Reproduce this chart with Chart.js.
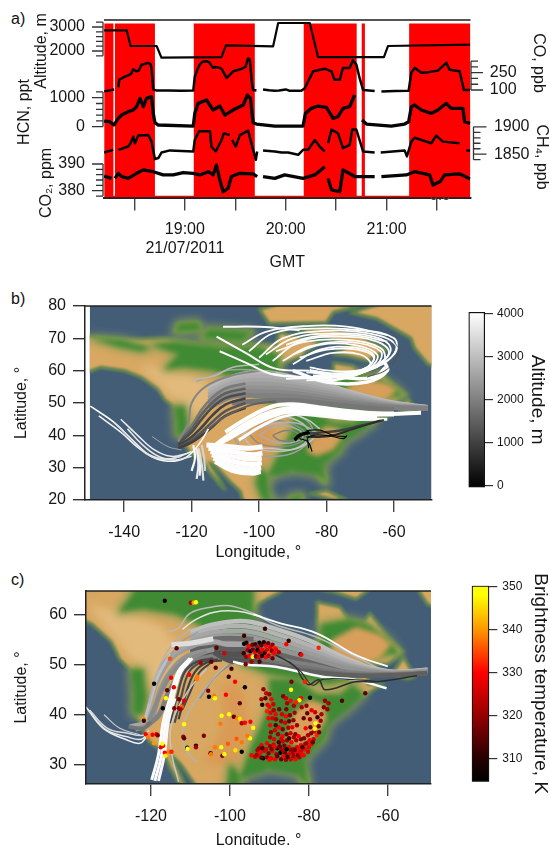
<!DOCTYPE html>
<html lang="en">
<head>
<meta charset="UTF-8">
<title>Flight time series, back trajectories and fire counts</title>
<script src="https://cdn.jsdelivr.net/npm/chart.js"></script>
<style>
  body { margin: 0; background: #fff; width: 550px; height: 845px; position: relative; overflow: hidden; font-family: "Liberation Sans", sans-serif; }
  canvas { position: absolute; display: block; }
  .tag { position: absolute; left: 11px; font-size: 16px; color: #111; line-height: 18px; }
</style>
</head>
<body>
<div class="tag" style="top:10px">a)</div>
<div class="tag" style="top:290px">b)</div>
<div class="tag" style="top:571px">c)</div>
<canvas id="seriesChart" width="550" height="275" style="left:0;top:0"></canvas>
<canvas id="trajChart" width="450" height="280" style="left:0;top:285px"></canvas>
<canvas id="altBar" width="100" height="280" style="left:450px;top:285px"></canvas>
<canvas id="fireChart" width="450" height="280" style="left:0;top:565px"></canvas>
<canvas id="tempBar" width="100" height="280" style="left:450px;top:565px"></canvas>

<script>
// ---- panel a: time is minutes after 00:00 GMT
const flagTime = [1092, 1097.5, 1098.4, 1122.2, 1145.3, 1181.6, 1210.7, 1242.2, 1245.2, 1247.1, 1273.4, 1309.9];
const flagValues = [.98, .01, .98, .01, .98, .01, .98, .01, .98, .01, .98, .98];

const altTime = [1092, 1105.4, 1107.7, 1123.2, 1126.1, 1161.8, 1164.4, 1192.5, 1195.5, 1214.3, 1219.2, 1258.4, 1260.8, 1309.7];
const altValues = [2861, 2861, 2208, 2208, 1721, 1749, 2235, 2194, 3167, 3167, 1749, 1749, 2208, 2263];

const coTime = [1092, 1098, 1099.5, 1100.4, 1101, 1102.5, 1104, 1106, 1108, 1109.3, 1111, 1112.5, 1114.3, 1116, 1118.2, 1119.5, 1120.2, 1121.2, 1123.2, 1130, 1138, 1145, 1145.9, 1147.5, 1148.9, 1150.5, 1152.9, 1154.5, 1156.8, 1158, 1160.8, 1162, 1164.8, 1166, 1168.7, 1172, 1174.7, 1176, 1177.6, 1178.6, 1180, 1180.6, 1182.6, 1184, 1186.5, 1190, 1193.5, 1196, 1200, 1202, 1209.3, 1211.3, 1213.3, 1216.3, 1223.2, 1227.2, 1229.1, 1232.1, 1234, 1238, 1240, 1242, 1244, 1246, 1252.9, 1254.5, 1256.9, 1265, 1273.1, 1274.7, 1276.7, 1280.6, 1285, 1290.5, 1295.5, 1297.5, 1303.4, 1306, 1309.7];
const coValues = [88, 105, null, 124, 190, 200, 215, 225, 240, 280, 262, 268, 320, 325, 335, 325, 290, 105, 95, 96, 94, 95, 215, 280, 320, 345, 350, 340, 292, 300, 292, 280, 205, 220, 262, 275, 290, 300, 375, 362, 150, 100, 95, null, 105, 98, 94, 96, 105, 94, 94, 115, 175, 262, 285, 262, 188, 188, 291, 291, 358, 320, 200, 100, 92, null, 86, 92, 94, 250, 292, 250, 255, 268, 335, 276, 262, 100, 100];

const hcnTime = [1092, 1095.4, 1097.8, 1100.4, 1102.4, 1106.3, 1109.3, 1111.3, 1113.3, 1115.3, 1117.2, 1120.2, 1121.2, 1122.2, 1124.2, 1145, 1145.9, 1147.9, 1152.9, 1156.8, 1160.8, 1163.8, 1168.7, 1174.7, 1177.2, 1179, 1180.6, 1182.6, 1193.5, 1210.3, 1211.7, 1215.3, 1219.2, 1224.2, 1228.2, 1231.1, 1234.1, 1238, 1241, 1243, 1245.4, 1248, 1262.8, 1270.7, 1273.1, 1274.7, 1276.7, 1280.6, 1286.6, 1290.5, 1295.5, 1298.4, 1305.4, 1306.4, 1309.7];
const hcnValues = [195, 172, 58, 288, 402, 518, 575, 690, 978, 690, 978, 1035, 460, 138, 58, 23, 460, 805, 920, 575, 713, 402, 575, 748, 1093, 978, 138, 92, 23, 23, 460, 633, 713, 667, 288, 345, 633, 690, 1093, null, 230, 92, 23, 92, 172, 690, 748, 575, 460, 575, 805, 633, 633, 172, 115];

const ch4Time = [1092, 1097.4, 1098.5, 1100.4, 1106.3, 1107.7, 1109.3, 1110.3, 1112.3, 1118.2, 1120.2, 1122.2, 1124.2, 1126.1, 1131.1, 1145, 1145.9, 1148.5, 1154.9, 1155.8, 1158.4, 1161.8, 1163.2, 1166.7, 1167.4, 1168.1, 1170.3, 1172.7, 1177.6, 1182.2, 1183, 1185, 1186.5, 1193.5, 1197.5, 1201.4, 1207.4, 1210.3, 1213.3, 1217.3, 1220.2, 1223.2, 1224.5, 1225.2, 1227.2, 1231.1, 1234.1, 1238, 1239.6, 1242, 1246, 1252.9, 1255, 1256.5, 1270.7, 1272.1, 1274.7, 1276.7, 1286.6, 1289.5, 1293.5, 1303.4, 1305, 1307.4, 1309.7];
const ch4Values = [1853, 1858, null, 1858, 1864, 1870, 1882, 1870, 1884, 1885, 1873, 1841, 1843, 1853, 1857, 1855, 1876, 1892, 1892, 1864, 1855, 1876, 1888, 1885, null, 1876, 1864, 1885, 1893, 1840, 1855, null, 1857, 1855, 1853, 1853, 1849, 1858, 1858, 1876, 1864, 1855, null, 1870, 1895, 1888, 1861, 1867, 1895, 1895, 1855, 1853, null, 1853, 1857, 1846, 1873, 1880, 1870, 1884, 1873, 1870, null, 1857, 1857];

const co2Time = [1092, 1096.4, 1097.5, 1098.4, 1100.4, 1102.4, 1106.3, 1111.3, 1115.3, 1121.2, 1127.1, 1133.1, 1139, 1145, 1148.9, 1153.9, 1156.8, 1158.8, 1160.8, 1162.8, 1165.7, 1167.7, 1172.7, 1180.6, 1183, 1184.5, 1186.5, 1193.5, 1199.4, 1210.3, 1217.3, 1223.2, 1224.3, 1225.2, 1227.2, 1232.1, 1234.1, 1241, 1252.9, 1254.8, 1256.9, 1271.7, 1276.7, 1285.6, 1287.6, 1291.9, 1294.5, 1303.4, 1309.7];
const co2Values = [385.5, 384.6, null, 384.6, 386.5, 385.3, 384.6, 386.5, 387.8, 387.1, 385.9, 385.9, 386.8, 386.5, 385.9, 387.1, 385.9, 389.6, 384, 379.6, 380.9, 385.3, 386.5, 386.3, 385.3, null, 385.3, 384.6, 385.9, 384.6, 385.9, 389, null, 384.6, 380.3, 379.6, 387.8, 385.3, 385.3, null, 385.3, 385.9, 387.1, 385.9, 382.1, 383.4, 385.9, 386.3, 384.4];

const altMajor = [2000, 3000], altMinor = [1800, 2200, 2400, 2600, 2800, 3200];
const hcnMajor = [0, 1000], hcnMinor = [200, 400, 600, 800, 1200];
const co2Major = [380, 390], co2Minor = [378, 382, 384, 386, 388];
const coMajor = [100, 250], coMinor = [150, 200, 300, 350];
const ch4Major = [1850, 1900], ch4Minor = [1840, 1860, 1870, 1880, 1890];

// ---- map outlines, lon,lat pairs
const landMain = [-166,68.5,-156.5,71.3,-141,69.7,-128,70,-115,68,-108,68,-95,68,-94,72,-85,69.5,-81,69,-86,66,-87,64.5,-93,62,-94.5,59,-92.5,57,-85,55.3,-82,55,-82,52.5,-79.5,51.3,-79,54,-77,56,-78,58.5,-78,62.5,-72,61.5,-70,59,-66,58.5,-64.5,60.3,-60,55.5,-56,52.5,-60,50,-66.5,50,-70,47.5,-65,48.8,-65,46,-61,46,-66,43.7,-70,43.7,-70.5,41.7,-74,40.5,-75.5,38,-76,35,-78,33.8,-81,32,-81.3,30,-80,26.8,-80.5,25.2,-81.8,26,-83,29,-85,29.7,-89,30.2,-90,29,-94,29.6,-97,28,-97.7,22.5,-95.5,18.7,-91,18.7,-90.5,21,-87,21.5,-88,16,-83,14,-92,14.5,-96,16,-105,20,-105.5,22.5,-109,26,-112.5,30,-114.7,31.7,-112,27,-110,23,-112,25,-115,29,-117,32.5,-120.5,34.5,-124,40,-124.5,43,-124,48,-128,51,-130,54.5,-135,58,-140,60,-147,61,-152,59,-158,56.5,-165,54.5,-160,58.5,-165,60,-165,64,-162,66.5];
const landGreenland = [-73,78,-60,82,-30,83,-20,75,-40,65,-44,60,-50,62,-54,67,-55,70,-65,76];
const landBaffin = [-62,66.5,-68,63,-74,64.5,-78,65,-73,68,-80,70,-90,73,-80,73.5,-70,71];
const landVictoria = [-117,70,-105,69,-102,72,-115,73];
const landBanks = [-125,72,-117,72.5,-118,75,-124,74.5];
const landElles = [-97,74.5,-80,74.8,-78,78,-70,80,-90,82,-100,79];
const landNewfoundland = [-59,48,-55,47,-53,47.5,-56,51.5];
const landCuba = [-85,22,-80,23,-74,20,-78,20];
const landShapes = [landMain, landGreenland, landBaffin, landVictoria, landBanks, landElles, landNewfoundland, landCuba];

const greenEast = [-97.5,27,-95,33,-92,38,-90,42,-90,47,-83,47,-78,44,-72,44,-69,46,-66,44,-70,41,-75,38,-76,35,-81,31,-80,25,-83,28,-90,29];
const greenBoreal = [-128,60.5,-122,61,-114,60,-108,58,-102,54,-97,50,-90,48,-82,47,-75,46,-68,47,-66,50,-60,52,-57,52,-60,55,-65,58,-70,59,-77,58,-77,55,-80,52,-82,54,-85,55.5,-92,57,-94,60,-94,65,-100,67.5,-112,67.5,-125,69,-132,68,-124,65];
const greenMexico = [-100,30,-97.5,28,-97,21,-93,18,-90,18,-99,20,-101,25];
const greenYucatan = [-91,21,-87,21.5,-88,18,-91,18];
const greenAlaska = [-150,70,-141,69.5,-132,67,-135,66,-142,67.5];
const greenCoast = [-125,49,-122,49,-121,43,-122,40,-124.5,40,-124.5,44];
const greenShapes = [greenEast, greenBoreal, greenMexico, greenYucatan, greenAlaska, greenCoast, landVictoria, landBanks];

const tanAppalachian = [-86,35,-83,33.5,-78,35.5,-75.5,39,-76,42,-80,43,-84,40];
const tanQuebec = [-75,50,-68,49.5,-62,51,-59,54,-62,56,-68,57.5,-74,55];
const tanShapes = [tanAppalachian, tanQuebec];
const orangePlains = [-107,30,-102,37,-102,46,-97,46,-95,38,-98,30];
const paleNorthwest = [-136,62,-125,60,-118,58,-112,53,-118,46,-122,46,-124,50,-130,56];
const paleShapes = [paleNorthwest];

// ---- panel b: trajectories as lon,lat pairs with their altitude in m, drawn bottom first
const trajBPaths = [
  [-108,40,-104,45,-96,47.5,-88,46,-84,41,-88,35.5,-96,33.5,-104,35,-108,40],
  [-105,40,-101,44,-95,46,-88.5,44.5,-85,40.5,-88,36.5,-95,35,-102,36.5,-105,40],
  [-103,40.5,-99,43.5,-94,44.5,-89,43,-86,40,-88.5,37.5,-94,36.5,-100,37.5,-103,40.5],
  [-100,40,-96,42.5,-92,43,-88,41.5,-87,39.5,-90,37.8,-95,37.8,-100,40],
  [-96,40,-92,41.5,-88.5,40.5,-90,38.5,-94,38.5,-96,40],
  [-100,44,-94,47,-86,45,-82,42],
  [-106,38,-101,41.5,-96,43.5,-89,43.8,-83,41],
  [-104,36,-97,36,-90,35.6,-85,38,-83,40],
  [-50,48.6,-60,50,-70,52.5,-80,55.5,-90,58,-100,59.5,-108,58,-115,54.5],
  [-50,48.6,-60,49.7,-70,52,-80,54.7,-90,57,-100,58.3,-108,57,-115,53.5],
  [-50,48.5,-60,49.4,-70,51.5,-80,53.9,-90,56,-100,57.1,-108,56,-115,52.5],
  [-50,48.5,-60,49.2,-70,51,-80,53.1,-90,55,-100,55.9,-108,55,-115,51.5],
  [-50,48.4,-60,49,-70,50.5,-80,52.3,-90,54,-100,54.7,-108,54,-115,50.5],
  [-50,48.3,-60,48.8,-70,50,-80,51.5,-90,53,-100,53.5,-108,53,-115,49.5],
  [-50,48.3,-60,48.6,-70,49.5,-80,50.7,-90,52,-100,52.3,-108,52,-115,48.5],
  [-60,47.9,-70,48.7,-80,49.8,-90,50.8,-100,50.6,-108,50],
  [-104,56,-110,54.5,-114,51.5,-117,48,-120,43,-124,38.5],
  [-104,54.5,-110,53,-114,50,-117,46.5,-120,42,-124,38],
  [-104,53,-110,51.5,-114,48.5,-117,45,-120,41,-124,37.5],
  [-104,51.5,-110,49.5,-114,46,-117,42.5,-120,39.5,-124,36.8],
  [-104,50,-110,47.5,-114,44,-117,41,-120,38.5,-124,36.2],
  [-104,48.5,-110,46,-114,42.5,-117,40,-120,37.8,-124,36],
  [-95,50.5,-102,49.5,-108,47,-112,44.5,-116,41],
  [-100,60,-108,58.5,-116,55,-120,50,-121,44,-124,38],
  [-95,59.5,-108.7,60.2,-118.6,56.6],
  [-100,62,-108,61,-113,58.5,-120,57],
  [-112.6,70.5,-104,65.5,-95.4,60.7,-85,60],
  [-110.7,73.6,-100,73.6,-95.4,73.3,-88,72.5],
  [-111.7,66,-104,62.5,-95.4,58.7,-85,58],
  [-103,66,-96,71.5,-84,73,-70,72.5,-60,70,-60,65,-68,60.5,-78,58.5,-88,58,-96,59],
  [-105,68,-98,72,-86,73.8,-74,73.6,-62,71],
  [-100,64,-93,70,-82,72.2,-68,71.6,-59.5,68,-62,63,-70,59.6,-80,58,-92,57.5],
  [-98,65,-90,70,-78,71.5,-66,70.5,-61,67,-64,62.5,-72,59,-82,57.5,-92,58.5],
  [-96,63,-88,69,-76,70.5,-65,69,-61.5,65.5,-66,61,-76,57.5,-86,57],
  [-95,66,-86,69,-74,69.5,-64,67,-63,63,-69,59.5,-78,57,-88,58],
  [-93,63,-85,67.5,-73,68.8,-64,66,-65,62,-72,58.5,-82,58],
  [-90,65,-82,68,-72,68,-65,65,-67,61,-74,58.5,-84,58.5],
  [-90,62,-82,66.5,-72,67.2,-66,64.8,-68,61,-76,59.2,-86,59.5],
  [-88,64,-80,66.5,-71,66.5,-66,64,-69,60.5,-76,59,-84,60],
  [-86,63,-78,65.5,-70,65,-67,62,-71,60,-79,60,-85,61],
  [-92,68,-84,70.5,-72,71,-62,69],
  [-90,60,-80,56.5,-68,56.5,-62,60,-63,63],
  [-85,60,-76,58,-66,58,-62.5,61],
  [-60,69,-58.5,66,-62,60.5,-68,58],
  [-52,47,-62,46.6,-72,47.4,-82,48.6,-90,49.6,-96,49,-104,45,-110,41],
  [-60,46.6,-70,46.7,-80,47.7,-90,48.4,-98,46.5,-106,42,-113,36.8],
  [-65,45.6,-74,46,-84,47,-92,47.2,-100,44.2,-108,39.6,-114.5,36],
  [-62,45,-72,45,-82,46,-90,46.4,-98,43.6,-106,38.6],
  [-115.6,37,-108.5,36.5,-103,36,-99,36.5],
  [-115,36,-108,35,-102,34,-99,34.5],
  [-114.4,35,-108,33.5,-102,32.6,-99.2,33],
  [-114,34,-108,32,-102,31,-99.2,31.5],
  [-113.5,33,-108,30.5,-102,29.6,-99.4,30],
  [-113,32,-108,29.2,-102,28.3,-99.5,28.8],
  [-150,49,-143,44,-137,38,-132,33.5,-127,32,-122,33,-118,37,-115,42],
  [-147.5,46,-141,41,-135,35.5,-130,33,-125,33,-120,35],
  [-143,44,-138,39,-133,34,-128,32.5,-123,33.5],
  [-141,45,-136,40,-131,35.5,-126,33.5,-121,34.5],
  [-139,42,-135,37.5,-130,33.6,-125,32.4,-120,33.5],
  [-131.7,39.6,-127,36.5,-123,35.5],
  [-120,29,-119,33,-119.5,37],
  [-118.5,26.5,-118,31,-118.5,36],
  [-117.6,27.5,-117.5,31,-118.2,35.5],
  [-116.5,26,-117,31,-118,36],
  [-116,29,-116.3,33,-117,37],
  [-63,44.7,-70,43,-76,41.5,-80,41,-86,40.5],
  [-64,44.6,-72,42,-78,40,-82,39.5,-86,39.5],
  [-74,39.6,-78,40,-82,41.6,-86,41.5],
  [-74,40,-75,39,-80,40,-85.3,39.5,-85.3,36],
  [-84.3,35,-85.5,38,-88,39],
  [-89.5,38.5,-88,40,-85,41]
];
const trajBAlt = [2500,3000,2200,2700,2000,3200,2800,3100,2900,2750,2600,2450,2300,2150,2000,1850,1900,1500,1200,1050,1350,1000,1500,2100,2500,2900,3950,3950,3950,3950,3950,3950,3950,3950,3950,3950,3950,3950,3950,3950,3950,3950,3950,1300,4000,4000,4000,3950,3950,4000,3950,4000,3950,4000,3950,3800,3500,3700,3600,2600,3900,3700,3800,3500,3300,1000,700,300,150,100,0];
const trajBWidth = [1.5,1.5,1.5,1.5,1.5,1.5,1.5,1.5,5,5,5,5,5,5,5,5,2.6,2.6,2.6,2.6,2.6,2.6,2,2,1.5,1.5,2,2,2,1.8,1.8,1.8,1.8,1.8,1.8,1.8,1.8,1.8,1.8,1.8,1.8,3.5,3.5,1,4,5,4,3,5,5,5,5,5,5,1.5,1.5,1.5,1.5,1.5,1,2.2,2.2,2.2,2.2,2.2,2.5,2,1.2,1.2,1.2,3.5];

// ---- panel c
const trajCPaths = [
  [-49.9,49.2,-58.9,48.4,-67.3,51.2,-78.3,55.5,-88.4,57.9,-94.1,60.2,-100,61.7,-104.2,61.5,-110.1,60.2,-113.1,57.2,-115.6,56.5],
  [-92,59.5,-98,60.6,-104,60.4,-109,58.8,-112,57],
  [-50,48.4,-60,48,-70,48.8,-80,50.6,-88,52,-96,53.6,-104,54,-110,53.2],
  [-50,48.9,-60,48.6,-70,51,-80,54.8,-88,57,-96,58.6,-104,58,-110,56.5],
  [-50,48.8,-60,48.5,-70,50.5,-80,53.8,-88,56,-96,57.6,-104,57.2,-110,55.8],
  [-50,48.7,-60,48.4,-70,50,-80,53,-88,55,-96,56.6,-104,56.4,-110,55.2],
  [-50,48.6,-60,48.3,-70,49.6,-80,52.2,-88,54,-96,55.6,-104,55.6,-110,54.5],
  [-50,48.5,-60,48.2,-70,49.2,-80,51.4,-88,53,-96,54.6,-104,54.8,-110,53.8],
  [-50,48.3,-60,48,-70,48.4,-80,49.9,-88,51,-96,52.6,-104,53.2,-110,52.4],
  [-50,48.2,-60,47.9,-70,48,-80,49.2,-88,50.2,-96,51.6,-104,52.4,-110,51.5],
  [-50,48.2,-60,47.8,-70,47.8,-80,48.6,-88,49.6,-96,50.8,-104,51.6,-110,50.6],
  [-94,55,-100,55.2,-104,55,-110,54],
  [-96,53,-101,53.2,-105,53.5,-110,52.5],
  [-96,52,-100,52,-104,52.2,-110,51],
  [-96,54,-101,54,-104.2,54.5,-112.7,52.9,-116.9,49.9,-119,45.9,-120.3,41.9,-121.5,38.5,-125.3,37.5],
  [-104,53,-111,51.5,-115,48.5,-117.5,45,-119,41,-120.5,38,-124,37],
  [-102,52,-109,50.5,-113.5,47,-116,43.5,-118,39.8,-121,37.8],
  [-106,52.5,-112.5,50,-116,46.5,-118.5,42.5,-120.5,38.8],
  [-108,54,-114,51.5,-117.6,47.5,-120,43,-121.8,38.5],
  [-115,52,-118,48,-120,43,-121.5,39],
  [-110,57,-114,54.5,-117,51,-119,47,-120.5,42],
  [-108,56.5,-113,54,-116,50,-118.5,46],
  [-115.2,38.2,-113.5,43.2,-111.4,48.5,-108.4,50.5,-104.2,51.2],
  [-114,38.3,-112.5,43,-110.3,48.5,-107,50.5,-103,51],
  [-113,39,-111.5,43.2,-109,48.3,-106,50.3,-102,50.8],
  [-112,41,-110.3,44,-107.8,48.3,-105,50.2],
  [-107.6,43.2,-104.2,47.2,-100,49.9,-96,51],
  [-104,52.5,-100,50.8,-96,50.8,-92,51.5],
  [-108.4,30.4,-111.4,33.2,-111.8,37.9,-109.3,41.9,-104.2,47.2,-100.8,49.9],
  [-113,26.5,-114.8,32.5,-114.8,37.9,-111,44.2,-105.9,49.2],
  [-119.8,26.9,-118.1,31.9,-116.9,38.5,-115.2,43.2,-113.1,48.5,-110.1,51.2],
  [-119,26.7,-117.3,31.9,-116.2,38.5,-114.5,43.2,-112.4,48.5,-109.5,51.2],
  [-118.1,26.7,-116.6,31.9,-115.6,38.5,-113.9,43.2],
  [-114.8,53.9,-110.1,54.2,-104.2,55.1],
  [-136.5,41.5,-132.1,37.2,-126.2,34.9,-122.8,34.2,-121.1,35.5],
  [-136,41,-131.5,37,-126,35.5,-122.5,35,-120.8,36.2],
  [-135.5,40.8,-131,37.2,-125.8,36.2,-122,35.8,-120.5,36.8],
  [-131.9,39.9,-127.9,37.2,-122.8,35.9],
  [-125.7,37.5,-121.9,37.2,-120,38.5],
  [-60.3,45.2,-68.2,46.9,-76.6,47.5,-88.4,49.5,-95.8,49.9,-99.2,50.5],
  [-52.6,47.7,-63.1,46.5,-68.2,46.5,-75.8,44.9,-77.5,46.9,-80,45.9,-81.7,47.2,-83.4,49.5,-88.4,51.9],
  [-63,46.6,-70,47,-76.5,47,-79,45.8,-82,48.5,-85,50.5],
  [-60,49.6,-68,51.8,-78,56.2,-88,58.4,-94,60]
];
const trajCAlt = [2900,3600,1600,3000,2800,2600,2450,2300,2000,1800,1500,1700,1500,1300,2600,2300,2000,2150,2450,3000,2800,2500,1100,1200,1000,1100,2200,1300,2800,3100,3950,3950,3900,3500,3800,3600,3400,3200,1800,3950,700,800,4000];
const trajCWidth = [1.5,1.5,4.5,4.5,4.5,4.5,4.5,4.5,4.5,4.5,4.5,5,6,6,5,5,5,4,3,3,1.5,1.5,2.2,2.2,2.2,2,2,6,1.5,1.5,3,3,3,5,1.5,1.5,1.5,1.2,3.5,2.5,1.5,1.2,1.8];

// fire pixels, [lon, lat, brightness K]
const firesNorthwest = [[-116.5,62.7,308],[-109.9,62.3,322],[-109.2,62.3,340],[-108.6,62.4,350],[-119.2,46.1,305],[-115.9,44.8,315],[-115.2,51.1,335],[-113.5,53.2,315],[-114.9,47.3,328],[-114.2,45.4,328],[-116.2,43.2,350],[-117,41.2,305],[-121.8,39.1,340],[-121.8,38.7,312],[-112.9,43,318],[-111.6,42.7,328],[-112.9,41.2,318],[-114.1,41.2,318],[-112.2,41.5,336],[-112.5,41,322],[-107.4,50.3,322],[-110.3,47.9,330],[-108.2,47.5,338],[-108.4,47,338],[-105.5,44.7,318],[-104.7,50.5,315],[-103.6,49.3,315],[-103.4,53.3,315],[-101.4,52.2,326],[-99.6,49.1,312],[-100.3,47.5,312],[-98.7,46.5,330],[-104,43.7,338],[-103.8,43.2,348],[-105.3,43.5,305],[-101,43.9,330],[-96.2,45.4,305],[-97.5,42.2,315]];
const firesSouthwest = [[-121.3,36,330],[-120.7,35.4,338],[-119.6,35.9,330],[-118.6,36,328],[-118.3,35.8,318],[-119.2,34.2,340],[-117.5,33.4,328],[-116.9,33.7,330],[-117.1,34.1,348],[-116.5,32.3,330],[-116.3,31.7,346],[-115.4,32.5,338],[-114.8,32.5,332],[-111.8,35.5,320],[-111.6,35.2,315],[-110.8,33.3,305],[-110.7,33.1,348],[-108.6,33.7,310],[-108.6,33.4,322],[-106.6,35.7,318],[-111.6,38,348],[-102.1,39.7,348],[-102.4,38.1,338],[-100.2,40,348],[-99,39.5,315],[-98.1,39.2,338],[-97.5,39.1,346],[-97,38.2,322],[-96.2,38.3,330],[-94.8,38.5,330],[-94.1,37.3,348],[-98.3,35.1,336],[-97,34.4,338],[-94.9,35.2,348],[-95.6,35.7,338],[-100.5,34.1,336],[-102.2,33.4,348],[-103.8,33.4,338],[-104.9,32.2,310],[-104.8,32,338],[-101.9,31.7,318],[-101.4,32,348],[-98.6,32.8,346],[-97,32.5,305]];
const firesPrairie = [[-96.4,54.1,305],[-96.4,55.7,312],[-91.1,57.1,312],[-95.8,54.3,310],[-95.2,53.6,330],[-94.3,53.9,318],[-93.6,54,312],[-93,53.4,322],[-92.5,54.3,306],[-92,53.8,315],[-91.4,54.4,310],[-90.9,53.7,330],[-90.3,54.2,316],[-89.8,53.4,328],[-89.2,53.9,320],[-88.7,53.2,332],[-95.5,52.8,322],[-94.8,52.6,306],[-94.2,52.9,316],[-93.6,52.4,330],[-93,52.8,308],[-92.4,52.4,320],[-91.8,52.9,330],[-91.2,52.3,312],[-90.6,52.8,325],[-90,52.3,335],[-89.4,52.7,318],[-88.8,52.2,330],[-96.5,52.2,312],[-95.9,51.5,320],[-95,51.7,330],[-94.2,51.5,348],[-93.4,51.6,316],[-92.6,51.5,328],[-91.8,51.7,306],[-90.9,51.4,330],[-90.2,51.7,324],[-89.2,51.2,316],[-96,50,318],[-94.5,50.5,322],[-92.5,50.5,314],[-85.7,54,330],[-85.1,54.7,312],[-88.3,53,330],[-87.6,52.4,322],[-82.1,52,310],[-81.9,51.9,330],[-77.5,53.3,332]];
const firesSoutheast = [[-91.5,45,320],[-90.8,44.2,325],[-92,43,322],[-91,43.2,315],[-90,44,320],[-89.5,43,330],[-90.5,41.9,328],[-91.8,41.9,306],[-90,41.5,330],[-89,42,325],[-90.6,40.6,332],[-89.7,40.3,328],[-88.9,40.8,322],[-88.4,40,330],[-90.2,39.2,330],[-89.2,39.2,326],[-88.3,39,320],[-87.5,41,318],[-86.5,43.6,318],[-85.8,43.2,325],[-85.5,42.2,322],[-84.6,42.7,330],[-83.8,41.7,322],[-85.7,41,318],[-86.8,40,326],[-85.8,39.6,330],[-84.8,39.8,318],[-83.6,40.3,322],[-87,38.6,320],[-86,38.3,326],[-85,38.6,315],[-83.9,38.8,320],[-87.6,37.4,330],[-86.6,37,318],[-85.2,37.3,322],[-84.2,37.4,328],[-83,37.8,320],[-88.6,36.8,326],[-87.8,36,320],[-86.7,35.6,330],[-85.6,36,316],[-84.6,36.2,326],[-83.4,36,318],[-89.8,35.4,322],[-88.8,35,328],[-87.6,34.4,312],[-86.6,34.6,325],[-85.5,34.8,320],[-84.4,34.4,330],[-83.2,34.8,322],[-82,35,318],[-90.6,34.2,330],[-89.8,33.6,320],[-88.9,33.9,326],[-88,33.2,308],[-87,33,322],[-86.2,33.7,318],[-85,33.4,330],[-84,33,325],[-83,33.4,328],[-82,33.8,330],[-81,34,326],[-92,33.8,328],[-93,32.8,322],[-92.2,32.4,330],[-91.2,32.7,326],[-90.2,32.2,318],[-89.2,32.6,330],[-88.2,32,322],[-87.2,32.3,305],[-86,32.2,316],[-85,32,328],[-84,32.2,322],[-83,32.4,330],[-82,32.6,326],[-81,33,330],[-80,33.4,328],[-94.5,31.8,330],[-93.6,31.5,325],[-92.6,31.6,330],[-91.6,31.2,305],[-90.6,31.4,320],[-89.6,31.2,328],[-88.6,31,330],[-87,31,316],[-85.8,30.9,320],[-84.6,31,326],[-83.4,31,330],[-82.4,31.4,322],[-81.3,31.8,330],[-80.2,32.5,326],[-79.4,34,330],[-78.8,35,325],[-78,35.8,332],[-77.4,36.4,316],[-78.6,36.6,325],[-79.4,36.2,318],[-78.3,38.2,348],[-78.5,37.1,350],[-77.5,37.6,318],[-77,38.7,320],[-77.8,39.4,312],[-76.8,40,322],[-78.4,40.4,325],[-79.3,40.8,328],[-80.6,41.7,320],[-81.8,41.4,322],[-80.4,40.2,315],[-81.3,39.2,316],[-79.7,39,320],[-82,43.2,330],[-79.7,43.3,305],[-84.5,44.9,348],[-82.4,42.8,350],[-83.2,42.4,332],[-84.4,46.5,318],[-81,46.5,332],[-75.9,42.7,320],[-75,42.2,322],[-76.2,41.4,318],[-75.3,41,320],[-71.6,42.7,314],[-65.7,44.2,315]];
const firesGulf = [[-92.6,33.2,320],[-91.7,33.2,312],[-90.8,33,326],[-89.4,33,318],[-88.6,33.5,330],[-87.4,33.6,316],[-86.5,32.8,322],[-85.6,33,306],[-84.5,32.8,320],[-83.5,32.9,316],[-82.5,33.2,330],[-81.6,33.4,312],[-80.6,34.2,320],[-79.8,34.8,330],[-79,34.4,316],[-93.2,31.9,322],[-92,31.3,314],[-90,30.9,330],[-88,31.6,316],[-86.4,31.6,330],[-85.4,31.5,312],[-83.9,31.6,322],[-82.8,31.8,318],[-81.8,32,330],[-89.6,36.4,320],[-88.4,37.8,314],[-89.8,37.8,330],[-87,35,326],[-85,35.2,312],[-83.8,35.4,322],[-82.6,35.6,330],[-81.2,35.2,318],[-80.2,35.8,322],[-79.6,37.4,316],[-80.8,37.2,330]];
const fireGroups = [firesNorthwest, firesSouthwest, firesPrairie, firesSoutheast, firesGulf];

const altRange = [-35, 4047];
const altTicks = [0, 1000, 2000, 3000, 4000];
const tempRange = [304.55, 350.2];
const tempTicks = [310, 320, 330, 340, 350];

// ---- styles
const seaColor = '#435d77';
const tanColor = '#d8a862';
const greenColor = '#3f8a33';
const hotKelvin = [304.55, 310, 320, 330, 340, 348, 350.2];
const hotRgb = [[0,0,0],[38,0,0],[150,0,0],[255,0,0],[255,150,0],[255,255,0],[255,255,0]];

Chart.defaults.font.family = '"Liberation Sans", Arial, sans-serif';
Chart.defaults.font.size = 16;
Chart.defaults.color = '#161616';
Chart.defaults.animation = false;
Chart.defaults.responsive = false;
Chart.defaults.devicePixelRatio = 1;
Chart.defaults.plugins.legend.display = false;
Chart.defaults.plugins.tooltip.enabled = false;

function grey(alt) {
  const g = Math.round(255 * Math.min(alt, 4000) / 4000);
  return `rgb(${g},${g},${g})`;
}
function hotColor(k) {
  let i = 0;
  while (i < hotKelvin.length - 2 && k > hotKelvin[i + 1]) i++;
  const t = Math.max(0, Math.min(1, (k - hotKelvin[i]) / (hotKelvin[i + 1] - hotKelvin[i])));
  const c = hotRgb[i].map((v, n) => Math.round(v + (hotRgb[i + 1][n] - v) * t));
  return `rgb(${c[0]},${c[1]},${c[2]})`;
}
const zipXY = (xs, ys) => xs.map((x, i) => ({x, y: ys[i]}));
function pairs(flat) {
  const out = [];
  for (let i = 0; i < flat.length; i += 2) out.push({x: flat[i], y: flat[i + 1]});
  return out;
}

// ---- panel a: stacked axes all share the plot height, so each has its own range
const seriesAxes = [
  {id: 'yAlt', x: 103, dir: -1, major: altMajor, minor: altMinor, big: 11, small: 7},
  {id: 'yHcn', x: 103, dir: -1, major: hcnMajor, minor: hcnMinor, big: 11, small: 7},
  {id: 'yCo2', x: 103, dir: -1, major: co2Major, minor: co2Minor, big: 11, small: 7},
  {id: 'yCo', x: 471, dir: 1, major: coMajor, minor: coMinor, big: 12, small: 7},
  {id: 'yCh4', x: 473.5, dir: 1, major: ch4Major, minor: ch4Minor, big: 13, small: 7}
];
const seriesTitles = [
  {text: 'Altitude, m', x: 42, y: 51, rot: -90},
  {text: 'HCN, ppt', x: 25, y: 112, rot: -90},
  {text: 'CO₂, ppm', x: 47, y: 183, rot: -90},
  {text: 'CO, ppb', x: 538, y: 63, rot: 90},
  {text: 'CH₄, ppb', x: 541, y: 157, rot: 90}
];
const seriesFurniture = {
  id: 'seriesFurniture',
  beforeDatasetsDraw(chart) {
    const {ctx} = chart;
    // half hidden label sitting under the last red block
    ctx.save();
    ctx.font = '15px "Liberation Sans"';
    ctx.fillStyle = '#444';
    ctx.textAlign = 'center';
    ctx.textBaseline = 'middle';
    ctx.fillText('0.0', 440, 196);
    ctx.restore();
  },
  afterDatasetsDraw(chart) {
    const {ctx, chartArea} = chart;
    ctx.save();
    ctx.strokeStyle = '#555';
    ctx.lineWidth = 2;
    ctx.beginPath();
    ctx.moveTo(chartArea.left, chartArea.top);
    ctx.lineTo(chartArea.right, chartArea.top);
    ctx.stroke();
    ctx.lineWidth = 1.3;
    ctx.strokeStyle = '#333';
    for (const ax of seriesAxes) {
      const s = chart.scales[ax.id];
      const all = ax.major.concat(ax.minor);
      ctx.beginPath();
      ctx.moveTo(ax.x, s.getPixelForValue(Math.min(...all)));
      ctx.lineTo(ax.x, s.getPixelForValue(Math.max(...all)));
      ax.major.forEach(v => { const p = s.getPixelForValue(v); ctx.moveTo(ax.x, p); ctx.lineTo(ax.x + ax.dir * ax.big, p); });
      ax.minor.forEach(v => { const p = s.getPixelForValue(v); ctx.moveTo(ax.x, p); ctx.lineTo(ax.x + ax.dir * ax.small, p); });
      ctx.stroke();
    }
    ctx.fillStyle = '#161616';
    ctx.font = '16px "Liberation Sans"';
    ctx.textAlign = 'center';
    ctx.textBaseline = 'middle';
    for (const t of seriesTitles) {
      ctx.save();
      ctx.translate(t.x, t.y);
      ctx.rotate(t.rot * Math.PI / 180);
      ctx.fillText(t.text, 0, 0);
      ctx.restore();
    }
    ctx.restore();
  }
};
function stackAxis(min, max, major, labelValue) {
  return {
    type: 'linear', min, max,
    position: {x: labelValue},
    border: {display: false},
    grid: {display: false},
    ticks: {autoSkip: false, callback: v => String(v), padding: 0},
    afterBuildTicks(s) { s.ticks = major.map(value => ({value})); }
  };
}
function seriesLine(times, values, yAxisID, width) {
  return {data: zipXY(times, values), yAxisID, borderColor: '#050505', borderWidth: width, pointRadius: 0, tension: 0, spanGaps: false, borderJoinStyle: 'round'};
}
new Chart(document.getElementById('seriesChart'), {
  type: 'line',
  data: {datasets: [
    seriesLine(altTime, altValues, 'yAlt', 2.2),
    seriesLine(coTime, coValues, 'yCo', 2.5),
    seriesLine(hcnTime, hcnValues, 'yHcn', 3.3),
    seriesLine(ch4Time, ch4Values, 'yCh4', 2.5),
    seriesLine(co2Time, co2Values, 'yCo2', 3.3),
    {data: zipXY(flagTime, flagValues), yAxisID: 'yFlag', stepped: true, fill: 'origin', backgroundColor: '#ff0000', borderWidth: 0, pointRadius: 0}
  ]},
  options: {
    layout: {padding: {left: 104, right: 79.5, top: 20}},
    scales: {
      x: {
        type: 'linear', min: 1091.9, max: 1309.9,
        border: {color: '#222', width: 2},
        grid: {drawOnChartArea: false, color: '#444', lineWidth: 1.4, tickLength: 13},
        ticks: {
          stepSize: 30, autoSkip: false, includeBounds: false, maxRotation: 0, padding: 9,
          callback(v) {
            if (v % 60 !== 0) return '';
            const label = Math.floor(v / 60) + ':00';
            return v === 1140 ? [label, '21/07/2011'] : label;
          }
        },
        title: {display: true, text: 'GMT', padding: {top: 0, bottom: 3}},
        afterFit(s) { s.height = 77.5; }
      },
      yFlag: {type: 'linear', min: 0, max: 1, display: false},
      yAlt: stackAxis(-4104, 3292, altMajor, 1080.6),
      yHcn: stackAxis(-2441, 3679, hcnMajor, 1080.6),
      yCo2: stackAxis(377.45, 443.9, co2Major, 1080.6),
      yCo: stackAxis(-832, 707, coMajor, 1337.3),
      yCh4: stackAxis(1771, 2095, ch4Major, 1345)
    }
  },
  plugins: [seriesFurniture]
});

// ---- panels b and c share the map backdrop
function basemap(mapLeftLon) {
  return {
    id: 'basemap',
    beforeDatasetsDraw(chart) {
      const {ctx, chartArea, scales} = chart;
      const left = scales.x.getPixelForValue(mapLeftLon);
      const trace = flat => {
        ctx.beginPath();
        for (let i = 0; i < flat.length; i += 2) {
          ctx.lineTo(scales.x.getPixelForValue(flat[i]), scales.y.getPixelForValue(flat[i + 1]));
        }
        ctx.closePath();
      };
      ctx.save();
      ctx.beginPath();
      ctx.rect(left, chartArea.top, chartArea.right - left, chartArea.height);
      ctx.clip();
      ctx.fillStyle = seaColor;
      ctx.fillRect(left, chartArea.top, chartArea.right - left, chartArea.height);
      ctx.filter = 'blur(1.5px)';
      ctx.lineJoin = 'round';
      landShapes.forEach(s => {
        trace(s);
        ctx.fillStyle = tanColor;
        ctx.fill();
        ctx.strokeStyle = '#4e8447';
        ctx.lineWidth = 2.5;
        ctx.stroke();
      });
      ctx.filter = 'blur(4px)';
      ctx.fillStyle = '#e2ba7c';
      paleShapes.forEach(s => { trace(s); ctx.fill(); });
      ctx.fillStyle = '#d99a55';
      trace(orangePlains);
      ctx.fill();
      ctx.strokeStyle = '#8f9f55';
      ctx.lineWidth = 7;
      greenShapes.forEach(s => { trace(s); ctx.stroke(); });
      ctx.filter = 'blur(2.5px)';
      ctx.fillStyle = greenColor;
      greenShapes.forEach(s => { trace(s); ctx.fill(); });
      ctx.fillStyle = '#d79f5b';
      tanShapes.forEach(s => { trace(s); ctx.fill(); });
      ctx.restore();
    },
    afterDatasetsDraw(chart) {
      const {ctx, chartArea} = chart;
      ctx.save();
      ctx.strokeStyle = '#222';
      ctx.lineWidth = 1.5;
      ctx.beginPath();
      ctx.moveTo(chartArea.left, chartArea.top);
      ctx.lineTo(chartArea.right, chartArea.top);
      ctx.stroke();
      ctx.restore();
    }
  };
}
function mapScales(xMin, xMax, yMin, yMax, xTick, yWidth, xHeight, titleBottom) {
  return {
    x: {
      type: 'linear', min: xMin, max: xMax,
      border: {color: '#222', width: 1.5, z: 1},
      grid: {drawOnChartArea: false, color: '#444', lineWidth: 1.4, tickLength: 12},
      ticks: {stepSize: 20, includeBounds: false, maxRotation: 0, padding: xTick},
      title: {display: true, text: 'Longitude, °', padding: {top: 0, bottom: titleBottom}},
      afterFit(s) { s.height = xHeight; }
    },
    y: {
      type: 'linear', min: yMin, max: yMax,
      border: {color: '#222', width: 1.5, z: 1},
      grid: {drawOnChartArea: false, color: '#333', lineWidth: 1.4, tickLength: 12},
      ticks: {stepSize: 10, includeBounds: false, padding: 7},
      title: {display: true, text: 'Latitude, °', padding: {top: 12, bottom: 0}},
      afterFit(s) { s.width = yWidth; }
    }
  };
}
function trajDatasets(paths, alts, widths) {
  return paths.map((p, i) => ({
    data: pairs(p), showLine: true, fill: false, tension: .4, pointRadius: 0,
    borderColor: grey(alts[i]), borderWidth: widths[i], borderCapStyle: 'butt'
  })).reverse();
}
new Chart(document.getElementById('trajChart'), {
  type: 'scatter',
  data: {datasets: trajDatasets(trajBPaths, trajBAlt, trajBWidth)},
  options: {
    layout: {padding: {right: 18.5, top: 21}},
    scales: mapScales(-151.6, -48.9, 20, 80, 11, 85, 65, 3)
  },
  plugins: [basemap(-150.2)]
});
const allFires = fireGroups.flat();
new Chart(document.getElementById('fireChart'), {
  type: 'scatter',
  data: {datasets: [{
    data: allFires.map(f => ({x: f[0], y: f[1]})),
    pointRadius: 2.2, borderWidth: 0,
    backgroundColor: allFires.map(f => hotColor(f[2]))
  }].concat(trajDatasets(trajCPaths, trajCAlt, trajCWidth))},
  options: {
    layout: {padding: {right: 19, top: 26}},
    scales: mapScales(-136.46, -49.04, 26.06, 64.66, 11, 86, 61, -5)
  },
  plugins: [basemap(-136.46)]
});

// ---- colour bars: one floating bar with a gradient fill on a real value axis
function colourBar(id, range, tickValues, fill, area, titleText, titlePad, tickPad) {
  new Chart(document.getElementById(id), {
    type: 'bar',
    data: {labels: [''], datasets: [{
      data: [range],
      categoryPercentage: 1, barPercentage: 1,
      borderColor: '#111', borderWidth: 1.5, borderSkipped: false,
      backgroundColor(c) {
        const a = c.chart.chartArea;
        if (!a) return '#888';
        return fill(c.chart.ctx.createLinearGradient(0, a.bottom, 0, a.top));
      }
    }]},
    options: {
      layout: {padding: {left: area.left, top: area.top, bottom: area.bottom}},
      scales: {
        x: {display: false},
        y: {
          position: 'right', min: range[0], max: range[1],
          border: {display: false},
          grid: {drawOnChartArea: false, color: '#333', lineWidth: 1.2, tickLength: 8},
          ticks: {autoSkip: false, padding: tickPad, font: {size: 12}, callback: v => String(v)},
          afterBuildTicks(s) { s.ticks = tickValues.map(value => ({value})); },
          title: {display: true, text: titleText, font: {size: 19}, padding: {top: titlePad, bottom: 0}},
          afterFit(s) { s.width = 100 - area.right; }
        }
      }
    }
  });
}
colourBar('altBar', altRange, altTicks, g => {
  g.addColorStop(0, '#000');
  g.addColorStop(1, '#fff');
  return g;
}, {left: 18.5, right: 35, top: 27, bottom: 77.5}, 'Altitude, m', 1, 4);
colourBar('tempBar', tempRange, tempTicks, g => {
  hotKelvin.forEach((k, i) => g.addColorStop((k - tempRange[0]) / (tempRange[1] - tempRange[0]), hotColor(k)));
  return g;
}, {left: 21.7, right: 39.3, top: 20.7, bottom: 63.3}, 'Brightness temperature, K', -1.4, 5);
</script>
</body>
</html>
